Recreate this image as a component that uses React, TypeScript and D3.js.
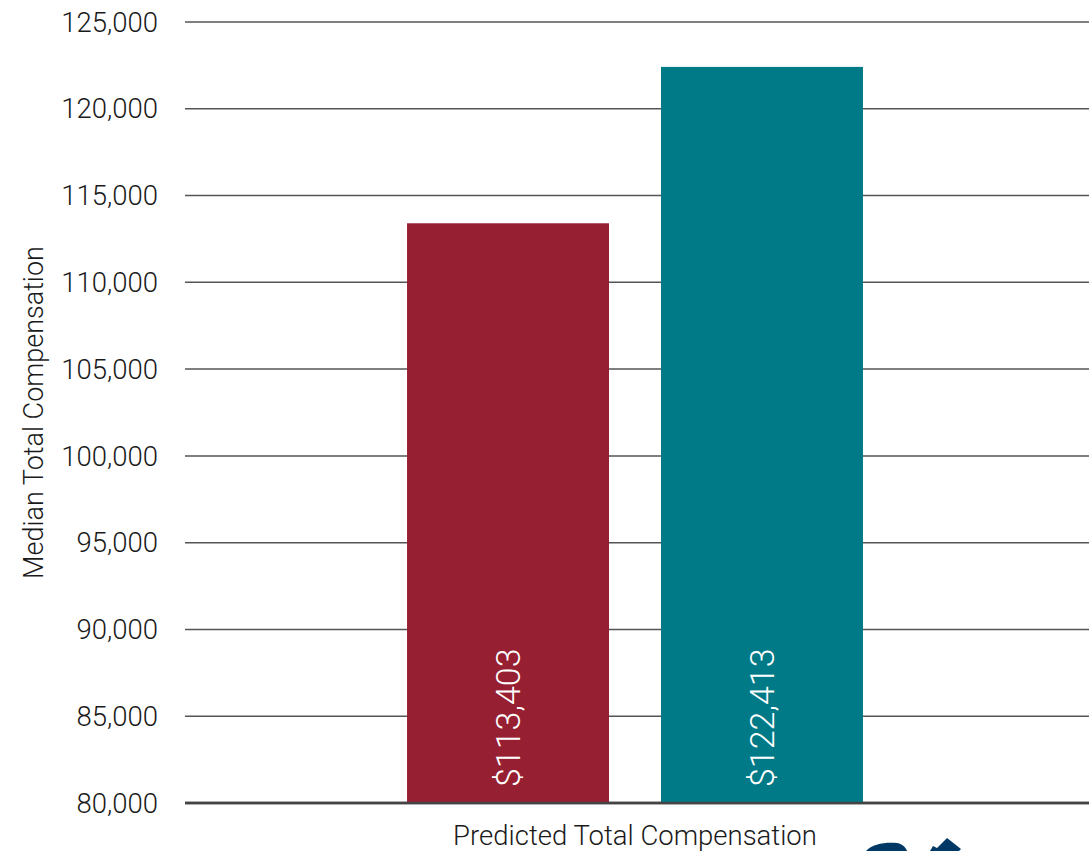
import React from "react";
import * as d3 from "d3";

const categories = ["Predicted Total Compensation"];
const seriesNames = ["Group A", "Group B"];
const seriesValues = [113403, 122413];
const seriesColors = ["#971F32", "#007A87"];
const yTicks = [80000, 85000, 90000, 95000, 100000, 105000, 110000, 115000, 120000, 125000];

const W = 1089;
const H = 851;
const left = 185;
const right = 1085;
const top = 22;
const bottom = 803;
const FONT = "Roboto, 'Open Sans', sans-serif";

export default function App() {
  const y = d3.scaleLinear().domain([80000, 125000]).range([bottom, top]);
  const x0 = d3.scaleBand<string>().domain(categories).range([left, right]).paddingInner(0).paddingOuter(0.487);
  const x1 = d3.scaleBand<string>().domain(seriesNames).range([0, x0.bandwidth()]).paddingInner(0.2047).paddingOuter(0);
  const fmtTick = d3.format(",");
  const fmtVal = (v: number) => "$" + d3.format(",")(v);

  return (
    <svg width={W} height={H} style={{ position: "absolute", left: 0, top: 0, background: "#fff" }}>
      {yTicks.map((t) => (
        <g key={t}>
          <line x1={left} x2={W} y1={y(t)} y2={y(t)} stroke={t === 80000 ? "#444" : "#555"} strokeWidth={t === 80000 ? 2.5 : 1.5} />
          <text x={158} y={y(t)} dy="0.35em" textAnchor="end" fontFamily={FONT} fontWeight={300} fontSize={27.5} fill="#1a1a1a">
            {fmtTick(t)}
          </text>
        </g>
      ))}
      {categories.map((c) => (
        <g key={c}>
          {seriesNames.map((s, i) => {
            const bx = (x0(c) as number) + (x1(s) as number);
            const bw = x1.bandwidth();
            const v = seriesValues[i];
            return (
              <g key={s}>
                <rect x={bx} y={y(v)} width={bw} height={bottom - y(v)} fill={seriesColors[i]} />
                <text
                  transform={`translate(${bx + bw / 2 + 12},${bottom - 16}) rotate(-90)`}
                  textAnchor="start"
                  fontFamily={FONT}
                  fontWeight={300}
                  fontSize={34}
                  fill="#fff"
                >
                  {fmtVal(v)}
                </text>
              </g>
            );
          })}
          <text x={(x0(c) as number) + x0.bandwidth() / 2} y={845} textAnchor="middle" fontFamily={FONT} fontWeight={300} fontSize={27.5} fill="#1a1a1a">
            {c}
          </text>
        </g>
      ))}
      <line x1={left} x2={W} y1={bottom} y2={bottom} stroke="#444" strokeWidth={2.5} />
      <text transform={`translate(43,${(top + bottom) / 2}) rotate(-90)`} textAnchor="middle" fontFamily={FONT} fontWeight={300} fontSize={27} fill="#1a1a1a">
        Median Total Compensation
      </text>
      <g fill="#003865">
        <path d="M866,851 C872,844 885,842 897,843 C903,844 906,848 907,851 Z" />
        <path d="M930,851 L933,846 L937,848 L947,838 L961,849 L959,851 Z" />
      </g>
    </svg>
  );
}
